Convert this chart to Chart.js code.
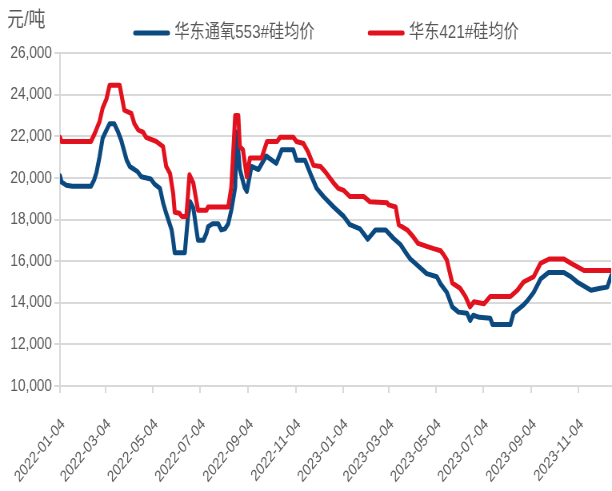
<!DOCTYPE html>
<html>
<head>
<meta charset="utf-8">
<script src="https://cdn.jsdelivr.net/npm/chart.js@4.4.1/dist/chart.umd.min.js"></script>
<style>
  html, body { margin: 0; padding: 0; background: #fff; overflow: hidden; }
  #frame { width: 612px; height: 491px; overflow: hidden; }
  /* drawn 765px wide, then squeezed to 612px */
  #squeeze { width: 765px; height: 491px; transform: scaleX(0.8); transform-origin: 0 0; }
</style>
</head>
<body>
<div id="frame"><div id="squeeze"><canvas id="price" width="765" height="491"></canvas></div></div>
<script>
var FONT = '"Liberation Sans", "Noto Sans CJK SC", sans-serif';
var GREY = '#595959';
var LINE = '#D9D9D9';

// x-axis labels, one every two months
var tickDates = ['2022-01-04', '2022-03-04', '2022-05-04', '2022-07-04', '2022-09-04', '2022-11-04',
  '2023-01-04', '2023-03-04', '2023-05-04', '2023-07-04', '2023-09-04', '2023-11-04'];
// y-axis, yuan per tonne
var yMin = 10000, yMax = 26000, yStep = 2000;

// 华东通氧553#
var dates553 = ['2022-01-04', '2022-01-06', '2022-01-12', '2022-01-20', '2022-02-13', '2022-02-17',
  '2022-02-20', '2022-02-24', '2022-02-28', '2022-03-05', '2022-03-09', '2022-03-15', '2022-03-20',
  '2022-03-24', '2022-03-31', '2022-04-04', '2022-04-08', '2022-04-14', '2022-04-19', '2022-05-01',
  '2022-05-06', '2022-05-13', '2022-05-17', '2022-05-21', '2022-05-28', '2022-05-30', '2022-06-01',
  '2022-06-14', '2022-06-18', '2022-06-21', '2022-06-25', '2022-06-29', '2022-07-01', '2022-07-08',
  '2022-07-12', '2022-07-14', '2022-07-20', '2022-07-27', '2022-07-31', '2022-08-05', '2022-08-09',
  '2022-08-13', '2022-08-18', '2022-08-20', '2022-08-24', '2022-08-30', '2022-09-02', '2022-09-08',
  '2022-09-17', '2022-09-27', '2022-10-10', '2022-10-17', '2022-11-01', '2022-11-05', '2022-11-16',
  '2022-11-23', '2022-12-01', '2022-12-10', '2022-12-23', '2023-01-05', '2023-01-13', '2023-01-26',
  '2023-02-05', '2023-02-15', '2023-02-28', '2023-03-10', '2023-03-19', '2023-03-28', '2023-04-01',
  '2023-04-10', '2023-04-22', '2023-05-05', '2023-05-10', '2023-05-18', '2023-05-25', '2023-06-02',
  '2023-06-13', '2023-06-17', '2023-06-21', '2023-06-29', '2023-07-13', '2023-07-16', '2023-08-08',
  '2023-08-12', '2023-08-25', '2023-08-30', '2023-09-07', '2023-09-16', '2023-09-26', '2023-10-16',
  '2023-10-25', '2023-11-02', '2023-11-20', '2023-12-02', '2023-12-11', '2023-12-16'];
var price553 = [20100, 19800, 19650, 19600, 19600, 19900,
  20250, 21000, 21900, 22300, 22600, 22600, 22200,
  21800, 20850, 20550, 20450, 20300, 20050, 19950,
  19700, 19500, 18800, 18300, 17500, 17000, 16400,
  16400, 18100, 18850, 18550, 17500, 17000, 17000,
  17350, 17650, 17800, 17800, 17500, 17550, 17800,
  18450, 19550, 22200, 20400, 19550, 19350, 20550,
  20400, 21050, 20700, 21350, 21350, 20850, 20850,
  20200, 19500, 19100, 18600, 18150, 17750, 17550,
  17050, 17500, 17500, 17100, 16800, 16300, 16100,
  15800, 15400, 15250, 14900, 14500, 13800, 13550,
  13500, 13150, 13400, 13300, 13250, 12950, 12950,
  13500, 13900, 14100, 14500, 15150, 15450, 15450,
  15250, 15000, 14600, 14700, 14750, 15300];

// 华东421#
var dates421 = ['2022-01-04', '2022-01-06', '2022-02-13', '2022-02-18', '2022-02-24', '2022-02-28',
  '2022-03-05', '2022-03-09', '2022-03-22', '2022-03-24', '2022-03-28', '2022-04-06', '2022-04-10',
  '2022-04-15', '2022-04-21', '2022-04-25', '2022-05-08', '2022-05-17', '2022-05-21', '2022-05-26',
  '2022-05-30', '2022-06-01', '2022-06-07', '2022-06-10', '2022-06-16', '2022-06-20', '2022-06-25',
  '2022-07-01', '2022-07-12', '2022-07-14', '2022-08-09', '2022-08-13', '2022-08-18', '2022-08-22',
  '2022-08-24', '2022-08-28', '2022-09-02', '2022-09-06', '2022-09-21', '2022-09-28', '2022-10-11',
  '2022-10-15', '2022-11-01', '2022-11-05', '2022-11-14', '2022-11-20', '2022-11-27', '2022-12-06',
  '2022-12-12', '2022-12-23', '2022-12-29', '2023-01-05', '2023-01-13', '2023-01-31', '2023-02-08',
  '2023-03-02', '2023-03-04', '2023-03-13', '2023-03-17', '2023-03-28', '2023-04-05', '2023-04-11',
  '2023-04-23', '2023-05-01', '2023-05-10', '2023-05-14', '2023-05-18', '2023-05-25', '2023-06-04',
  '2023-06-11', '2023-06-17', '2023-06-22', '2023-07-05', '2023-07-13', '2023-08-08', '2023-08-17',
  '2023-08-25', '2023-09-07', '2023-09-16', '2023-09-27', '2023-10-16', '2023-10-25', '2023-11-11',
  '2023-12-16'];
var price421 = [21950, 21750, 21750, 22150, 22700, 23350,
  23800, 24450, 24450, 24050, 23250, 23100, 22600,
  22300, 22200, 21950, 21750, 21500, 20550, 20200,
  19250, 18350, 18300, 18150, 18150, 20150, 19750,
  18450, 18450, 18600, 18600, 19550, 23000, 23000,
  21500, 21350, 20050, 20950, 20950, 21750, 21750,
  21950, 21950, 21750, 21650, 21250, 20600, 20550,
  20300, 19750, 19500, 19400, 19100, 19100, 18850,
  18800, 18700, 18600, 17750, 17500, 17150, 16850,
  16700, 16600, 16500, 16300, 16050, 14950, 14700,
  14300, 13800, 14050, 13950, 14300, 14300, 14600,
  15000, 15250, 15900, 16100, 16100, 15900, 15550,
  15550];

var day0 = Date.parse(tickDates[0]);
function dayOf(d) { return Math.round((Date.parse(d) - day0) / 86400000); }
function points(dates, prices) {
  return dates.map(function (d, i) { return { x: dayOf(d), y: prices[i] }; });
}
var tickDays = tickDates.map(dayOf);
var lastDay = Math.max(dayOf(dates553[dates553.length - 1]), dayOf(dates421[dates421.length - 1]));

// legend drawn as short thick strokes, plus the unit in the corner
var lineLegend = {
  id: 'lineLegend',
  afterDraw: function (chart) {
    var ctx = chart.ctx;
    ctx.save();
    ctx.fillStyle = GREY;
    ctx.textBaseline = 'middle';
    ctx.font = '21px ' + FONT;
    ctx.fillText('元/吨', 9, 20);
    ctx.font = '19px ' + FONT;
    var x = 166, y = 33;
    chart.data.datasets.forEach(function (ds) {
      ctx.strokeStyle = ds.borderColor;
      ctx.lineWidth = 5;
      ctx.lineCap = 'round';
      ctx.beginPath();
      ctx.moveTo(x + 3, y);
      ctx.lineTo(x + 44, y);
      ctx.stroke();
      ctx.fillText(ds.label, x + 52, y);
      x += 52 + ctx.measureText(ds.label).width + 66;
    });
    ctx.restore();
  }
};

var ctx = document.getElementById('price');
var chart = new Chart(ctx, {
  type: 'line',
  data: {
    datasets: [
      {
        label: '华东通氧553#硅均价',
        data: points(dates553, price553),
        borderColor: '#0B4A80',
        order: 1
      },
      {
        label: '华东421#硅均价',
        data: points(dates421, price421),
        borderColor: '#E1111E',
        order: 0
      }
    ]
  },
  options: {
    responsive: false,
    animation: false,
    layout: { padding: { top: 53, left: 10, right: 1, bottom: 0 } },
    elements: {
      point: { radius: 0 },
      line: { borderWidth: 5, tension: 0, fill: false, borderJoinStyle: 'round', borderCapStyle: 'round' }
    },
    plugins: {
      legend: { display: false },
      tooltip: { enabled: false }
    },
    scales: {
      x: {
        type: 'linear',
        min: 0,
        max: lastDay,
        afterBuildTicks: function (axis) {
          axis.ticks = tickDays.map(function (v) { return { value: v }; });
        },
        // fixed band for the slanted dates; they may hang left of the plot
        afterFit: function (axis) {
          axis.height = 105;
          axis.paddingLeft = 0;
          axis.paddingRight = 0;
        },
        grid: { drawOnChartArea: false, color: LINE, lineWidth: 2, tickLength: 7 },
        border: { color: LINE, width: 2 },
        ticks: {
          autoSkip: false,
          minRotation: 45,
          maxRotation: 45,
          padding: 22,
          labelOffset: 4,
          color: GREY,
          font: { family: FONT, size: 16 },
          callback: function (value) {
            var i = tickDays.indexOf(value);
            return i >= 0 ? tickDates[i] : '';
          }
        }
      },
      y: {
        min: yMin,
        max: yMax,
        grid: { color: LINE, lineWidth: 2, tickLength: 7 },
        border: { color: LINE, width: 2 },
        ticks: {
          stepSize: yStep,
          color: GREY,
          padding: 3,
          font: { family: FONT, size: 17 },
          callback: function (value) { return value.toLocaleString('en-US'); }
        }
      }
    }
  },
  plugins: [lineLegend]
});
</script>
</body>
</html>
